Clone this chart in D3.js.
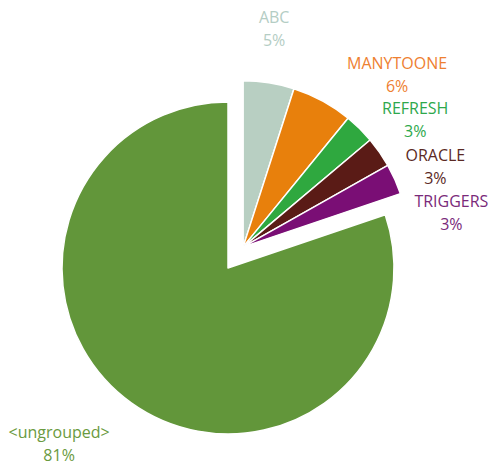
<!DOCTYPE html>
<html>
<head>
<meta charset="utf-8">
<script src="https://cdn.jsdelivr.net/npm/d3@7"></script>
<style>
  html, body { margin: 0; padding: 0; background: #fff; }
  svg { display: block; font-family: "Open Sans", "Noto Sans", sans-serif; }
</style>
</head>
<body>
<svg id="chart" width="491" height="465"></svg>
<script>
// Share of objects per group (percent)
const categories = ["ABC", "MANYTOONE", "REFRESH", "ORACLE", "TRIGGERS", "<ungrouped>"];
const values = [5, 6, 3, 3, 3, 81];
const sliceColors = ["#b8cfc2", "#e8800c", "#2fa83f", "#5a1b16", "#7a0e75", "#62963a"];
const labelColors = ["#b4cdc4", "#ee8031", "#2ea84c", "#5b2924", "#7a2a7a", "#6a9a40"];
// Which slices are pulled out from the pie
const exploded = [true, true, true, true, true, false];

// Layout
const width = 491, height = 465;
const cx = 228, cy = 268, radius = 166;
const explodeDistance = 26;
// Label anchor around the pie: angle (degrees clockwise from 12 o'clock) and distance
const labelAngle = [8.1, 41.8, 53.7, 67.5, 80.7, 223.8];
const labelRadius = [220, 231, 213.5, 208, 211, 244];

const svg = d3.select("#chart");
const g = svg.append("g").attr("transform", `translate(${cx},${cy})`);

const pie = d3.pie().sort(null).value(d => d.value);
const arcs = pie(categories.map((c, i) => ({ name: c, value: values[i], i })));
const arc = d3.arc().innerRadius(0).outerRadius(radius);

// The exploded group moves out along the bisector of the whole group
const explodedArcs = arcs.filter(a => exploded[a.data.i]);
const groupStart = d3.min(explodedArcs, a => a.startAngle);
const groupEnd = d3.max(explodedArcs, a => a.endAngle);
const groupMid = (groupStart + groupEnd) / 2;
const offX = Math.sin(groupMid) * explodeDistance;
const offY = -Math.cos(groupMid) * explodeDistance;

function originOf(i) {
  return exploded[i] ? [offX, offY] : [0, 0];
}

g.selectAll("path.slice")
  .data(arcs)
  .join("path")
  .attr("class", "slice")
  .attr("transform", d => `translate(${originOf(d.data.i)})`)
  .attr("d", arc)
  .attr("fill", d => sliceColors[d.data.i])
  .attr("stroke", "#fff")
  .attr("stroke-width", 1.5)
  .attr("stroke-linejoin", "round");

// Two-line data labels: category name and percentage
const labels = g.selectAll("g.label")
  .data(arcs)
  .join("g")
  .attr("class", "label")
  .attr("transform", d => {
    const i = d.data.i;
    const a = labelAngle[i] * Math.PI / 180;
    const [ox, oy] = originOf(i);
    const x = ox + Math.sin(a) * labelRadius[i];
    const y = oy - Math.cos(a) * labelRadius[i];
    return `translate(${x},${y})`;
  })
  .attr("fill", d => labelColors[d.data.i])
  .attr("font-size", 16)
  .attr("text-anchor", "middle");

labels.append("text")
  .attr("y", -6)
  .text(d => d.data.name);

labels.append("text")
  .attr("y", 17)
  .text(d => d.data.value + "%");
</script>
</body>
</html>
